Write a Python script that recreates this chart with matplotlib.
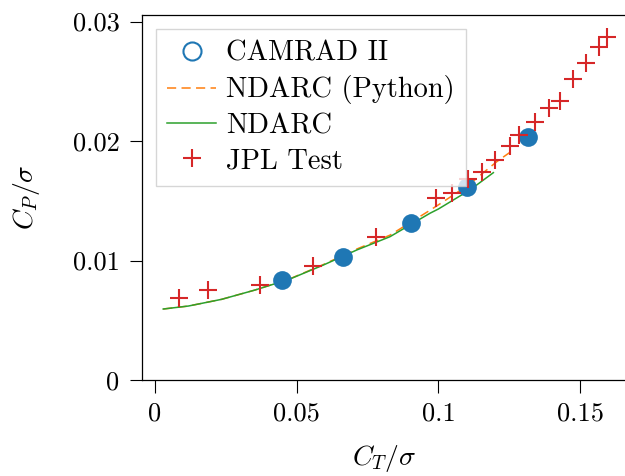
import matplotlib
matplotlib.use("Agg")
import matplotlib.pyplot as plt
from matplotlib.lines import Line2D

plt.rcParams['font.family'] = 'serif'
plt.rcParams['font.serif'] = ['cmr10']
plt.rcParams['mathtext.fontset'] = 'cm'
plt.rcParams['axes.formatter.use_mathtext'] = True

# values
camrad_ct = [0.0447, 0.0665, 0.0903, 0.1100, 0.1317]
camrad_cp = [0.00837, 0.01032, 0.01317, 0.01618, 0.02036]

python_ct = [0.0029, 0.0118, 0.0235, 0.0353, 0.0476, 0.0594, 0.0712, 0.0829,
             0.0970, 0.1012, 0.1111, 0.1153, 0.1206, 0.1270]
python_cp = [0.00594, 0.00619, 0.00675, 0.00753, 0.00847, 0.00966, 0.01096, 0.01212,
             0.01420, 0.01484, 0.01640, 0.01724, 0.01827, 0.01935]

ndarc_ct = [0.0029, 0.0118, 0.0235, 0.0353, 0.0476, 0.0594, 0.0712, 0.0829,
            0.0970, 0.1000, 0.1111, 0.1194]
ndarc_cp = [0.00594, 0.00619, 0.00675, 0.00753, 0.00845, 0.00962, 0.01088, 0.01199,
            0.01395, 0.01431, 0.01590, 0.01735]

jpl_ct = [0.0086, 0.0188, 0.0370, 0.0559, 0.0779, 0.0992, 0.1047, 0.1103, 0.1153, 0.1200,
          0.1253, 0.1286, 0.1341, 0.1391, 0.1429, 0.1476, 0.1520, 0.1568, 0.1596]
jpl_cp = [0.00683, 0.00757, 0.00795, 0.00954, 0.0120, 0.01526, 0.01568, 0.01682, 0.01743, 0.01841,
          0.0196, 0.0205, 0.02156, 0.02273, 0.02335, 0.02516, 0.0265, 0.0279, 0.02873]

xticks = [0, 0.05, 0.1, 0.15]
xticklabels = ["0", "0.05", "0.1", "0.15"]
yticks = [0, 0.01, 0.02, 0.03]
yticklabels = ["0", "0.01", "0.02", "0.03"]

W, H = 625, 476
fig = plt.figure(figsize=(W / 100, H / 100), dpi=100)
# axes placed in pixel terms; right spine falls just outside the image
x0, x1, y0, y1 = 141.7, 626.0, 380.0, 15.0
ax = fig.add_axes([x0 / W, 1 - y0 / H, (x1 - x0) / W, (y0 - y1) / H])

ax.plot(camrad_ct, camrad_cp, 'o', color='tab:blue', ms=13.5, mew=0, zorder=3)
ax.plot(python_ct, python_cp, '--', color='tab:orange', lw=1.1, dashes=(6, 3.5), zorder=2)
ax.plot(ndarc_ct, ndarc_cp, '-', color='tab:green', lw=1.1, zorder=2)
ax.plot(jpl_ct, jpl_cp, '+', color='tab:red', ms=12.5, mew=1.5, zorder=4)

ax.set_xlim((x0 - 155) / 2834, (x1 - 155) / 2834)
ax.set_ylim(0, (380 - y1) / 11950)

ax.set_xticks(xticks)
ax.set_xticklabels(xticklabels)
ax.set_yticks(yticks)
ax.set_yticklabels(yticklabels)
ax.tick_params(direction='out', length=9, width=0.8, pad=7, labelsize=19)
for s in ax.spines.values():
    s.set_linewidth(0.9)

ax.set_xlabel(r'$C_T/\sigma$', fontsize=20, labelpad=12)
ax.set_ylabel(r'$C_P/\sigma$', fontsize=20, labelpad=22)

handles = [
    Line2D([], [], marker='o', ls='none', mfc='none', mec='tab:blue', ms=13, mew=1.5),
    Line2D([], [], ls='--', color='tab:orange', lw=1.1, dashes=(6, 3.5)),
    Line2D([], [], ls='-', color='tab:green', lw=1.1),
    Line2D([], [], marker='+', ls='none', color='tab:red', ms=12.5, mew=1.5),
]
labels = ["CAMRAD II", "NDARC (Python)", "NDARC", "JPL Test"]
leg = ax.legend(handles, labels, loc='upper left', fontsize=20.5, fancybox=False,
                handlelength=1.7, handletextpad=0.35, borderaxespad=0.5,
                labelspacing=0.3, edgecolor='#cccccc')
leg.get_frame().set_linewidth(1.0)

fig.savefig("out.png", dpi=100)
